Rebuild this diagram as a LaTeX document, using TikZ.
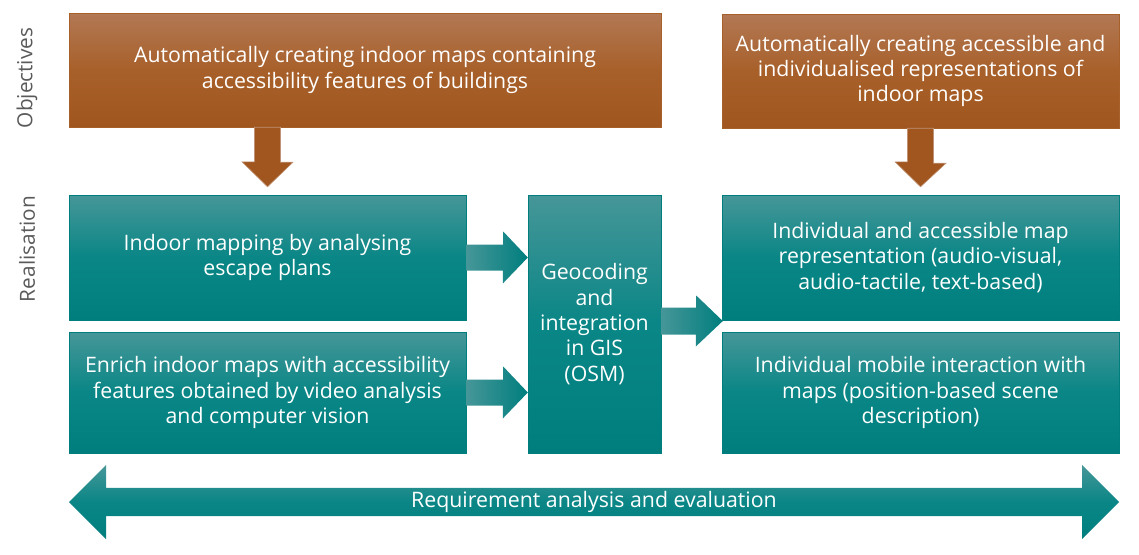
\documentclass[tikz,border=0pt]{standalone}
\usepackage{fontspec}
\setmainfont{Open Sans}
\usetikzlibrary{calc,shapes.arrows}

\definecolor{brownTop}{RGB}{178,120,84}
\definecolor{brownMid}{RGB}{168,96,42}
\definecolor{brownBot}{RGB}{160,86,30}
\definecolor{tealTop}{RGB}{70,150,152}
\definecolor{tealMid}{RGB}{10,134,134}
\definecolor{tealBot}{RGB}{0,126,126}
\definecolor{labelGray}{RGB}{90,90,90}

\tikzset{
  box/.style={rectangle, align=center, text=white, inner sep=0pt, font=\fontsize{21.3}{25.3}\selectfont},
  objective/.style={box, draw=brownMid, top color=brownTop, bottom color=brownBot, middle color=brownMid},
  realisation/.style={box, draw=tealBot, top color=tealTop, bottom color=tealBot, middle color=tealMid},
  sidelabel/.style={rotate=90, text=labelGray, font=\fontsize{20.8}{24}\selectfont},
  brownarrow/.style={fill=brownBot, draw=brownTop!80, line width=0.6pt},
  tealarrow/.style={left color=tealTop, right color=tealBot},
}

\begin{document}
\begin{tikzpicture}[x=1pt,y=-1pt]
            \useasboundingbox (0,0) rectangle (1139,554);

            \node[sidelabel] (L1) at (27,78) {Objectives};
            \node[sidelabel] (L2) at (27,249) {Realisation};

            \node[objective, minimum width=592pt, minimum height=114pt] (O1) at (365,70)
                {Automatically creating indoor maps containing\\accessibility features of buildings};
            \node[objective, minimum width=397pt, minimum height=114pt] (O2) at (920.5,71)
                {Automatically creating accessible and\\individualised representations of\\indoor maps};

            \node[realisation, minimum width=397pt, minimum height=125pt] (R1) at (267.5,257.5)
                {Indoor mapping by analysing\\escape plans};
            \node[realisation, minimum width=397pt, minimum height=121pt] (R2) at (267.5,392.5)
                {Enrich indoor maps with accessibility\\features obtained by video analysis\\and computer vision};
            \node[realisation, minimum width=133pt, minimum height=258pt] (G) at (594.5,324)
                {Geocoding\\and\\integration\\in GIS\\(OSM)};
            \node[realisation, minimum width=397pt, minimum height=125pt] (M1) at (920.5,257.5)
                {Individual and accessible map\\representation (audio-visual,\\audio-tactile, text-based)};
            \node[realisation, minimum width=397pt, minimum height=121pt] (M2) at (920.5,392.5)
                {Individual mobile interaction with\\maps (position-based scene\\description)};

            \node[double arrow, double arrow head extend=17.5pt, minimum width=74pt, minimum height=1050pt,
                  inner sep=0pt, text=white, top color=tealTop, bottom color=tealBot, middle color=tealMid,
                  font=\fontsize{21.3}{25}\selectfont] (E) at (594,502) {Requirement analysis and evaluation};

            \draw[brownarrow] ($(R1.north |- O1.south)+(-13,0)$) -- ++(26,0) -- ++(0,35) -- ++(12.5,0)
                -- ($(R1.north)+(0,-8)$) -- ++(-25.5,-25) -- ++(12.5,0) -- cycle;
            \draw[brownarrow] ($(M1.north |- O2.south)+(-13,0)$) -- ++(26,0) -- ++(0,35) -- ++(12.5,0)
                -- ($(M1.north)+(0,-8)$) -- ++(-25.5,-25) -- ++(12.5,0) -- cycle;

            \path[tealarrow] ($(R1.east)+(0,-13)$) -- ++(37,0) -- ++(0,-13) -- (G.west |- R1.east)
                -- ++(-25,26) -- ++(0,-13) -- ($(R1.east)+(0,13)$) -- cycle;
            \path[tealarrow] ($(R2.east)+(0,-13)$) -- ++(37,0) -- ++(0,-13) -- (G.west |- R2.east)
                -- ++(-25,26) -- ++(0,-13) -- ($(R2.east)+(0,13)$) -- cycle;
            \path[tealarrow] ($(G.east)+(0,-16.5)$) -- ++(35,0) -- ++(0,-12) -- ($(M1.west |- G.east)+(1,-3)$)
                -- ++(-27,25.5) -- ++(0,-12) -- ($(G.east)+(0,10.5)$) -- cycle;
        \end{tikzpicture}
\end{document}
